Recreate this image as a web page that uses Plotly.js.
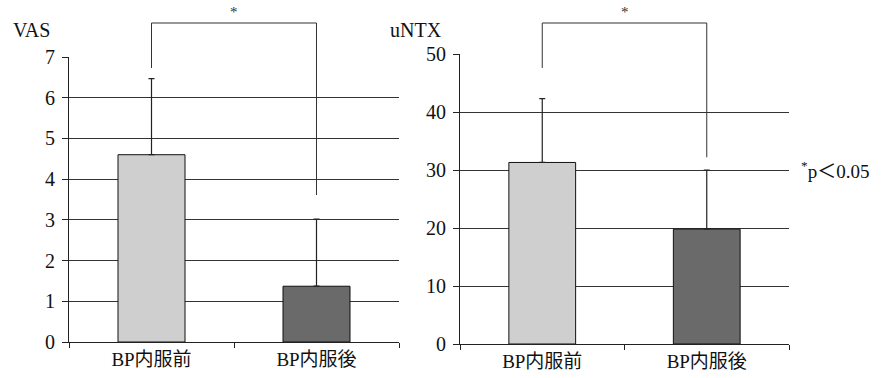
<!DOCTYPE html>
<html>
<head>
<meta charset="utf-8">
<script src="https://cdn.plot.ly/plotly-3.0.1.min.js"></script>
<style>html,body{margin:0;padding:0;background:#fff;}#chart{width:884px;height:378px;}</style>
</head>
<body>
<div id="chart"></div>
<script>
// ---- data ----
const categories = ['BP内服前', 'BP内服後'];
const vasMean = [4.6, 1.37];
const vasSD = [1.87, 1.65];
const ntxMean = [31.3, 19.8];
const ntxSD = [11.0, 10.2];
const vasTicks = [0, 1, 2, 3, 4, 5, 6, 7];
const ntxTicks = [0, 10, 20, 30, 40, 50];
const vasBracketEnds = [6.73, 3.61];
const ntxBracketEnds = [47.6, 32.2];
const barColors = ['#cfcfcf', '#6a6a6a'];

const W = 884, H = 378;
const fontFam = "'Liberation Serif', 'Noto Sans CJK JP', serif";
const xDom1 = [69 / W, 399 / W];
const xDom2 = [460 / W, 789 / W];
const yDom1 = [(H - 342) / H, (H - 57) / H];
const yDom2 = [(H - 344) / H, (H - 54) / H];
const yRange1 = [0, 7];
const yRange2 = [0, 50];

function toPaper(v, dom, rng) {
  return dom[0] + (v - rng[0]) / (rng[1] - rng[0]) * (dom[1] - dom[0]);
}

function barTrace(mean, sd, xa, ya) {
  return {
    type: 'bar', x: categories, y: mean, xaxis: xa, yaxis: ya,
    marker: { color: barColors, line: { color: '#111', width: 1 } },
    error_y: { type: 'data', symmetric: false, array: sd, arrayminus: sd.map(() => 0),
               color: '#222', thickness: 1.2, width: 3 },
    showlegend: false, hoverinfo: 'skip'
  };
}

const data = [barTrace(vasMean, vasSD, 'x', 'y'), barTrace(ntxMean, ntxSD, 'x2', 'y2')];

function xAxis(dom, anchor) {
  return {
    domain: dom, anchor: anchor, type: 'category',
    showline: true, linecolor: '#222', linewidth: 1,
    ticks: 'outside', tickson: 'boundaries', ticklen: 5, tickcolor: '#222',
    showgrid: false, zeroline: false,
    tickfont: { family: fontFam, size: 19, color: '#111' }
  };
}
function yAxis(dom, anchor, rng, ticks) {
  return {
    domain: dom, anchor: anchor, range: rng, tickvals: ticks,
    showline: true, linecolor: '#222', linewidth: 1,
    ticks: 'outside', ticklen: 6, tickcolor: '#222', ticklabelstandoff: 3,
    showgrid: true, gridcolor: '#333', gridwidth: 1, zeroline: false,
    tickfont: { family: fontFam, size: 20, color: '#111' }
  };
}

const topY = (H - 23) / H;
function bracket(xref, ends, dom, rng) {
  const lc = { color: '#333', width: 1 };
  return [
    { type: 'line', xref: xref, yref: 'paper', x0: 0, x1: 0, y0: toPaper(ends[0], dom, rng), y1: topY, line: lc },
    { type: 'line', xref: xref, yref: 'paper', x0: 0, x1: 1, y0: topY, y1: topY, line: lc },
    { type: 'line', xref: xref, yref: 'paper', x0: 1, x1: 1, y0: toPaper(ends[1], dom, rng), y1: topY, line: lc }
  ];
}

const layout = {
  width: W, height: H,
  margin: { l: 0, r: 0, t: 0, b: 0 },
  paper_bgcolor: '#fff', plot_bgcolor: '#fff',
  bargap: 0.594,
  xaxis: xAxis(xDom1, 'y'),
  yaxis: yAxis(yDom1, 'x', yRange1, vasTicks),
  xaxis2: xAxis(xDom2, 'y2'),
  yaxis2: yAxis(yDom2, 'x2', yRange2, ntxTicks),
  shapes: [].concat(bracket('x', vasBracketEnds, yDom1, yRange1),
                    bracket('x2', ntxBracketEnds, yDom2, yRange2)),
  annotations: [
    { text: '*', xref: 'x', yref: 'paper', x: 0.5, y: (H - 12) / H, yanchor: 'middle', showarrow: false,
      font: { family: fontFam, size: 15, color: '#333' } },
    { text: '*', xref: 'x2', yref: 'paper', x: 0.5, y: (H - 12) / H, yanchor: 'middle', showarrow: false,
      font: { family: fontFam, size: 15, color: '#333' } },
    { text: 'VAS', xref: 'paper', yref: 'paper', x: 11 / W, xanchor: 'left', y: (H - 30) / H, yanchor: 'middle',
      showarrow: false, font: { family: fontFam, size: 20, color: '#111' } },
    { text: 'uNTX', xref: 'paper', yref: 'paper', x: 444 / W, xanchor: 'right', y: (H - 30) / H, yanchor: 'middle',
      showarrow: false, font: { family: fontFam, size: 20, color: '#111' } },
    { text: '<sup>*</sup>p＜0.05', xref: 'paper', yref: 'paper', x: 799 / W, xanchor: 'left', y: (H - 170) / H, yanchor: 'middle',
      showarrow: false, font: { family: fontFam, size: 19, color: '#111' } }
  ]
};

Plotly.newPlot('chart', data, layout, { staticPlot: true, displayModeBar: false });
</script>
</body>
</html>
